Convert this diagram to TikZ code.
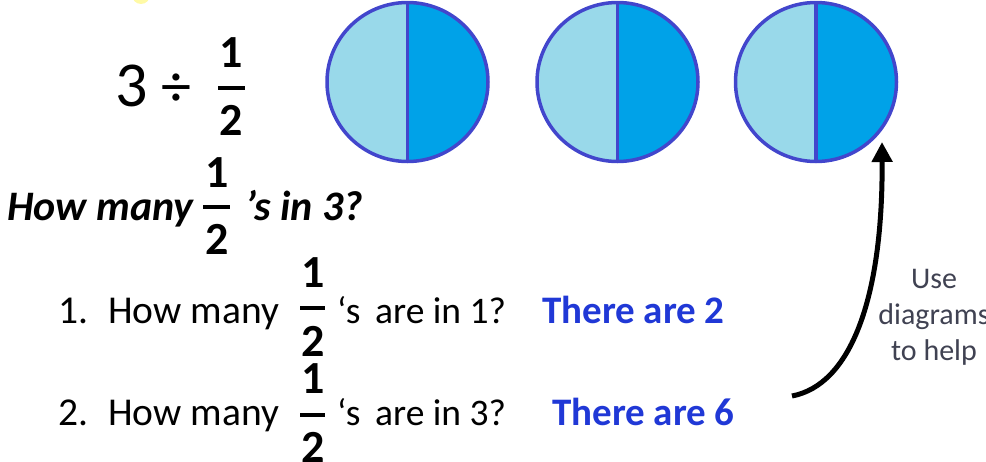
\documentclass[tikz,border=0pt]{standalone}
\usepackage{fontspec}
\setmainfont{Carlito}
\usetikzlibrary{arrows.meta,shapes.geometric}
\definecolor{rim}{RGB}{66,70,204}
\definecolor{lighthalf}{RGB}{153,217,234}
\definecolor{darkhalf}{RGB}{0,162,232}
\definecolor{answer}{RGB}{32,56,214}
\definecolor{hint}{RGB}{64,66,82}
\begin{document}
\begin{tikzpicture}[x=1pt,y=-1pt,
  txt/.style={inner sep=0pt, anchor=base west, font=\fontsize{39.5}{48}\selectfont},
  stxt/.style={inner sep=0pt, anchor=base west, font=\fontsize{37.5}{48}\selectfont},
  qtxt/.style={inner sep=0pt, anchor=base west, font=\fontsize{42}{50}\selectfont\bfseries\itshape},
  anstxt/.style={inner sep=0pt, anchor=base west, text=answer, font=\fontsize{39}{48}\selectfont\bfseries},
  fd/.style={inner sep=0pt, font=\fontsize{46}{50}\selectfont\bfseries},
  fbar/.style={line width=4pt},
  halfcircle/.style={ellipse, inner sep=0pt, minimum width=161pt, minimum height=159pt,
    path picture={
      \fill[lighthalf] (path picture bounding box.north west) rectangle (path picture bounding box.south);
      \fill[darkhalf] (path picture bounding box.north) rectangle (path picture bounding box.south east);
    }},
  rimline/.style={draw=rim, line width=3.5pt}
]
\useasboundingbox (0,0) rectangle (986,461);

% faint yellow blob at top
\fill[yellow!35] (141,-5) circle (9);

% 3 ÷ 1/2
\node[inner sep=0pt, font=\fontsize{64}{70}\selectfont] (three) at (131.5,85.5) {3};
\node[inner sep=0pt, font=\fontsize{60}{70}\selectfont] (div) at (176,90) {÷};
\node[fd] (tn) at (231.5,53) {1};
\node[fd] (td) at (231.5,120) {2};
\draw[fbar] (218,88) -- (245,88);

% How many 1/2 's in 3?
\node[qtxt] (hm) at (7,220) {How many};
\node[fd] (hn) at (217.5,173) {1};
\node[fd] (hd) at (217.5,239) {2};
\draw[fbar] (203,207) -- (230,207);
\node[qtxt] (hs) at (245,220) {’s in 3?};

% line 1
\node[txt] (l1num) at (58,323) {1.};
\node[txt] (l1a) at (108,323) {How many};
\node[fd] (l1n) at (313,273) {1};
\node[fd] (l1d) at (313,341) {2};
\draw[fbar] (300,308) -- (325,308);
\node[stxt] (l1s) at (337,323) {‘s};
\node[stxt] (l1b) at (375,323) {are in 1?};
\node[anstxt] (ans1) at (542,323) {There are 2};

% line 2
\node[txt] (l2num) at (58,425) {2.};
\node[txt] (l2a) at (108,425) {How many};
\node[fd] (l2n) at (313,379) {1};
\node[fd] (l2d) at (313,447) {2};
\draw[fbar] (300,415) -- (325,415);
\node[stxt] (l2s) at (337,425) {‘s};
\node[stxt] (l2b) at (375,425) {are in 3?};
\node[anstxt] (ans2) at (552,425) {There are 6};

% circles
\foreach \n/\cx in {c1/407.5, c2/617.5, c3/816} {
  \node[halfcircle] (\n) at (\cx,82) {};
  \draw[rimline] (\n.north) -- (\n.south);
  \draw[rimline] (\n.center) ellipse [x radius=80.5, y radius=79.5];
}

% arrow
\coordinate (astart) at (792,396);
\coordinate (atip) at (882,142);
\draw[line width=5pt, -{Triangle[length=20pt,width=20pt]}]
  (astart) .. controls (850,385) and (883,300) .. (atip);

% hint text
\node[inner sep=0pt, anchor=base, align=center, text=hint,
  font=\fontsize{30}{36}\selectfont] (hint) at (934,360) {Use\\diagrams\\to help};
\end{tikzpicture}
\end{document}
